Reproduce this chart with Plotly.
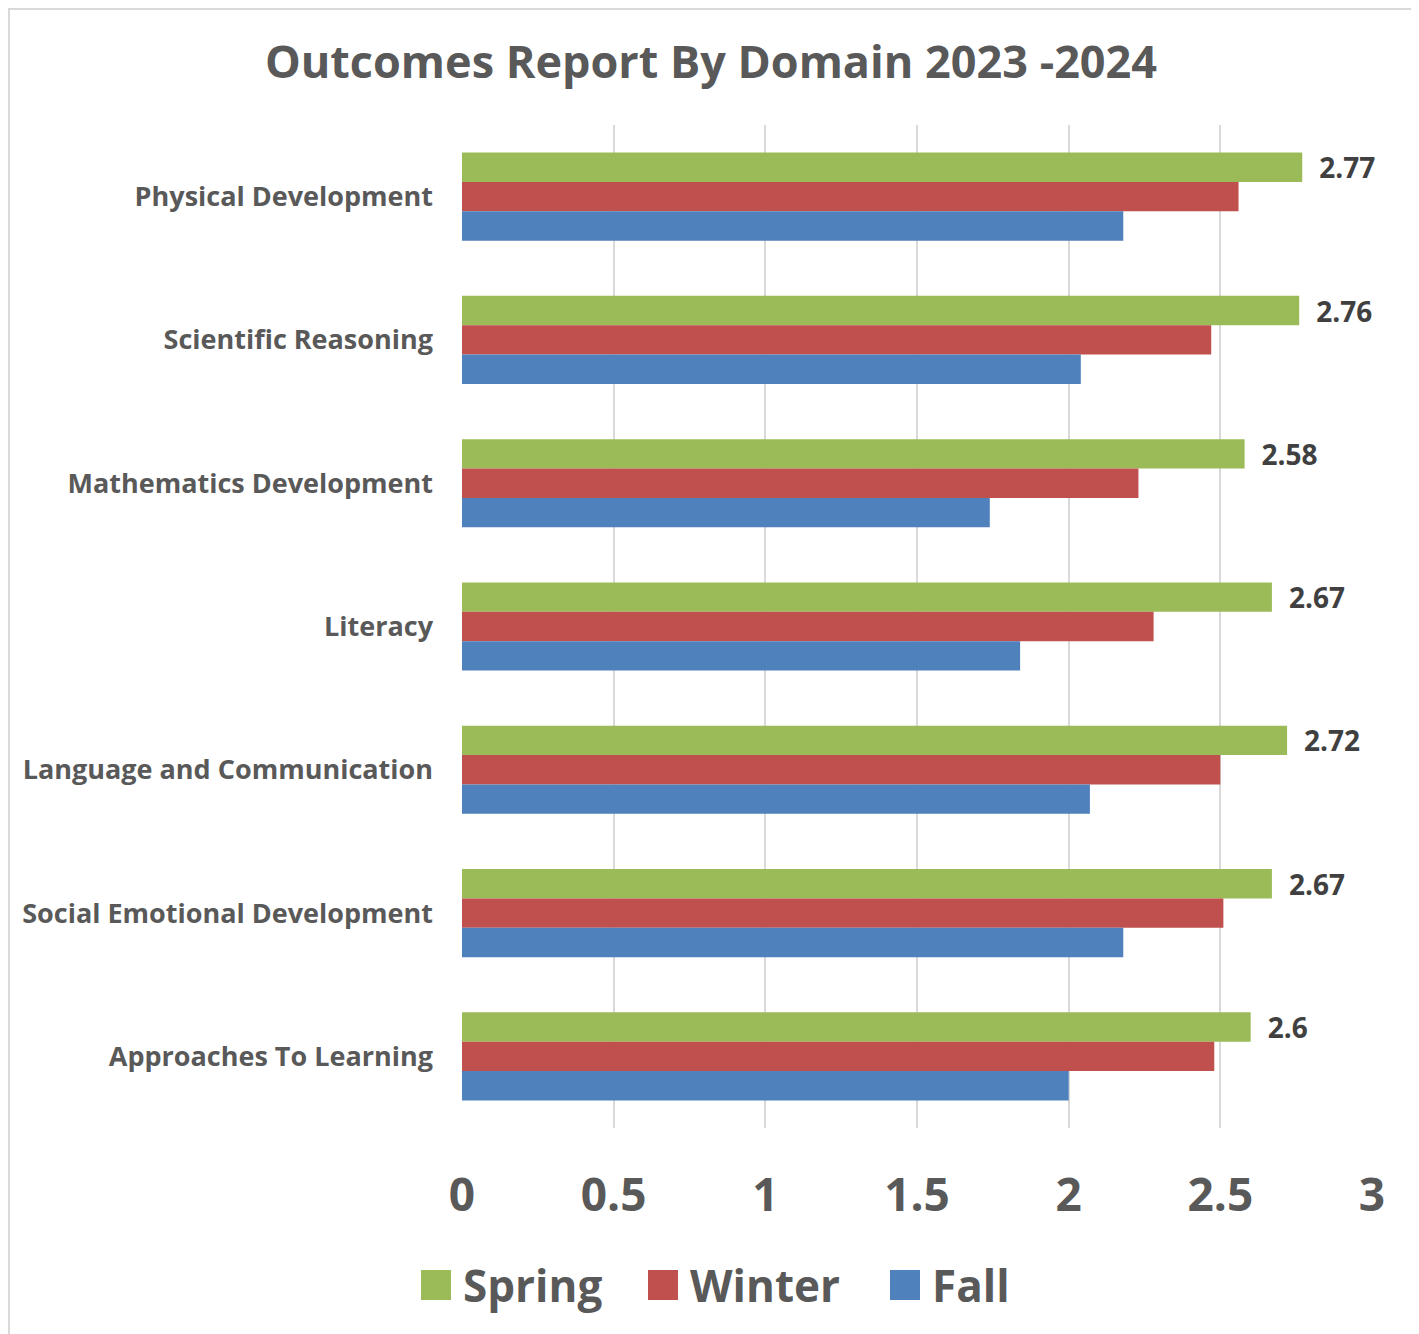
import plotly.graph_objects as go

# -----------------------------------------------------
# Data
# -----------------------------------------------------

domains = [
    "Physical Development",
    "Scientific Reasoning",
    "Mathematics Development",
    "Literacy",
    "Language and Communication",
    "Social Emotional Development",
    "Approaches To Learning",
]

spring = [2.77, 2.76, 2.58, 2.67, 2.72, 2.67, 2.6]
winter = [2.56, 2.47, 2.23, 2.28, 2.50, 2.51, 2.48]
fall = [2.18, 2.04, 1.74, 1.84, 2.07, 2.18, 2.00]

series_names = ["Spring", "Winter", "Fall"]
series_colors = ["#9BBB59", "#C0504D", "#4F81BD"]

x_ticks = [0, 0.5, 1, 1.5, 2, 2.5, 3]

FONT = "Open Sans"
GRAY = "#595959"

# page geometry (the figure sits 8px in from the page corner)
OFF = 8
PLOT_L, PLOT_R, PLOT_T, PLOT_B = 462, 1372, 125, 1128
PW = PLOT_R - PLOT_L
PH = PLOT_B - PLOT_T


def px(x):
    return (x - PLOT_L) / PW


def py(y):
    return (PLOT_B - y) / PH


# -----------------------------------------------------
# Figure
# -----------------------------------------------------

fig = go.Figure()

for name, vals, color in zip(series_names, [spring, winter, fall], series_colors):

    labelled = name == "Spring"

    fig.add_trace(
        go.Bar(
            y=domains,
            x=vals,
            name=name,
            orientation="h",
            marker=dict(color=color, line=dict(width=0)),
            text=["\u2002" + f"{v:g}" for v in vals] if labelled else None,
            textposition="outside" if labelled else None,
            textfont=dict(family=FONT, size=28, color="#404040", weight="bold"),
            constraintext="none",
            cliponaxis=False,
            showlegend=False,
        )
    )

# -----------------------------------------------------
# Legend (big square swatches)
# -----------------------------------------------------

legend_swatch_x = [421, 648, 890]
legend_text_x = [461, 688, 930]
LEG_Y = 1285
SW = 30

shapes = []
annotations = []

for name, color, sx, tx in zip(series_names, series_colors, legend_swatch_x, legend_text_x):

    shapes.append(
        dict(
            type="rect",
            xref="paper",
            yref="paper",
            x0=px(sx),
            x1=px(sx + SW),
            y0=py(LEG_Y + SW / 2),
            y1=py(LEG_Y - SW / 2),
            line=dict(width=0),
            fillcolor=color,
        )
    )

    annotations.append(
        dict(
            text=f"<b>{name}</b>",
            xref="paper",
            yref="paper",
            x=px(tx),
            y=py(LEG_Y),
            xanchor="left",
            yanchor="middle",
            showarrow=False,
            font=dict(family=FONT, size=44, color=GRAY),
        )
    )

# chart border
shapes.append(
    dict(
        type="rect",
        xref="paper",
        yref="paper",
        x0=px(OFF + 1),
        x1=px(1415),
        y0=py(1345),
        y1=py(OFF + 1),
        line=dict(color="#D9D9D9", width=2),
        fillcolor="rgba(0,0,0,0)",
        layer="below",
    )
)

# -----------------------------------------------------
# Layout
# -----------------------------------------------------

W, H = 1419 - OFF, 1334 - OFF

fig.update_layout(
    width=W,
    height=H,
    barmode="group",
    bargap=0.385,
    bargroupgap=0,
    paper_bgcolor="white",
    plot_bgcolor="white",
    font=dict(family=FONT, color=GRAY),
    title=dict(
        text="<b>Outcomes Report By Domain 2023 -2024</b>",
        x=px(711),
        xref="paper",
        xanchor="center",
        y=1 - (62 - OFF) / H,
        yanchor="middle",
        font=dict(family=FONT, size=45, color=GRAY),
    ),
    margin=dict(
        l=PLOT_L - OFF,
        r=OFF + W - PLOT_R,
        t=PLOT_T - OFF,
        b=OFF + H - PLOT_B,
        pad=0,
    ),
    showlegend=False,
    xaxis=dict(
        range=[0, 3],
        tickvals=x_ticks,
        ticktext=[f"{t:g}" for t in x_ticks],
        showgrid=True,
        gridcolor="#D9D9D9",
        gridwidth=2,
        zeroline=False,
        showline=False,
        ticks="",
        tickfont=dict(family=FONT, size=46, color=GRAY, weight="bold"),
        ticklabelstandoff=36,
    ),
    yaxis=dict(
        autorange="reversed",
        showgrid=False,
        showline=False,
        zeroline=False,
        ticks="",
        tickfont=dict(family=FONT, size=27, color=GRAY, weight="bold"),
        ticklabelstandoff=28,
    ),
    shapes=shapes,
    annotations=annotations,
)

fig.write_html("out.html")
